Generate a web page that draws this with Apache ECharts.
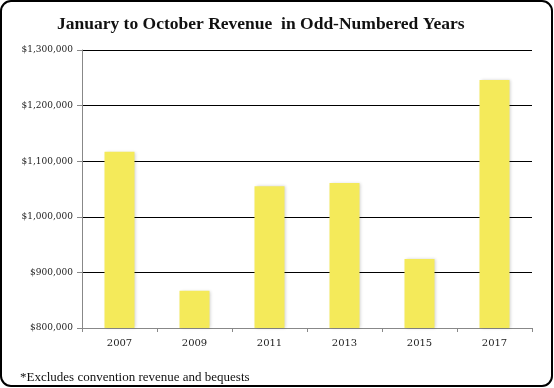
<!DOCTYPE html>
<html><head><meta charset="utf-8">
<script src="https://cdn.jsdelivr.net/npm/echarts@6/dist/echarts.min.js"></script>
<style>html,body{margin:0;padding:0;background:#fff}#c{width:554px;height:388px}</style>
</head><body><div id="c"></div>
<script>
const categories = ['2007','2009','2011','2013','2015','2017'];
const revenue = [1117000, 867000, 1055000, 1061000, 924000, 1246000];
const yTicks = [800000, 900000, 1000000, 1100000, 1200000, 1300000];
const titleText = 'January to October Revenue  in Odd-Numbered Years';
const footnote = '*Excludes convention revenue and bequests';

const chart = echarts.init(document.getElementById('c'));
const fmt = v => '$' + v.toLocaleString('en-US');
chart.setOption({
  animation: false,
  title: { text: titleText, left: 52, top: 10,
    textStyle: { fontFamily: 'Liberation Serif', fontWeight: 'bold', fontSize: 17.5, color: '#111' } },
  grid: { left: 82, right: 22, top: 50, bottom: 60 },
  xAxis: { type: 'category', data: categories,
    axisLine: { lineStyle: { color: '#888', width: 1 } },
    axisTick: { show: true, alignWithLabel: false, length: 4, lineStyle: { color: '#888' } },
    axisLabel: { margin: 10, fontFamily: 'DejaVu Serif', fontSize: 10, color: '#222' } },
  yAxis: { type: 'value', min: yTicks[0], max: yTicks[yTicks.length-1], interval: 100000,
    axisLine: { show: true, lineStyle: { color: '#888', width: 1 } },
    axisTick: { show: true, length: 5, lineStyle: { color: '#888' } },
    splitLine: { lineStyle: { color: '#000', width: 1 } },
    axisLabel: { margin: 9, fontFamily: 'DejaVu Serif', fontSize: 9, color: '#222', formatter: fmt } },
  series: [{ type: 'bar', data: revenue, barWidth: '40%',
    itemStyle: { color: '#F4EA5A', shadowBlur: 3, shadowColor: 'rgba(0,0,0,0.18)', shadowOffsetX: 1, shadowOffsetY: 0 } }],
  graphic: [
    { type: 'rect', shape: { x: 1, y: 1, width: 551, height: 385, r: 10 },
      style: { fill: 'none', stroke: '#000', lineWidth: 2 }, z: 10 },
    { type: 'text', left: 20, top: 371,
      style: { text: footnote, fontFamily: 'Liberation Serif', fontSize: 13, fill: '#111' } }
  ]
});
</script></body></html>
